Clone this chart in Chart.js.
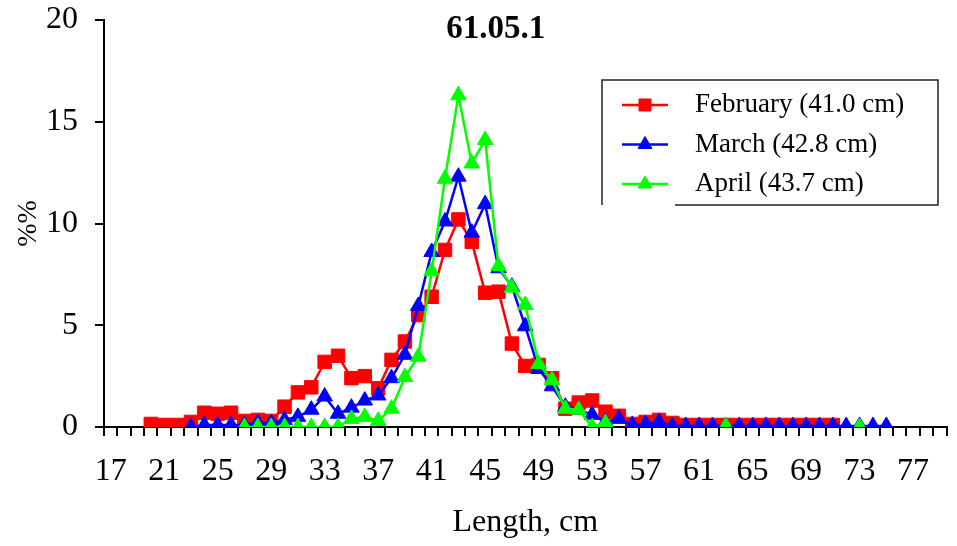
<!DOCTYPE html>
<html>
<head>
<meta charset="utf-8">
<script src="https://cdn.jsdelivr.net/npm/chart.js@4.4.1/dist/chart.umd.min.js"></script>
<style>
  html, body { margin: 0; padding: 0; background: #fff; }
  #wrap { width: 957px; height: 546px; }
</style>
</head>
<body>
<div id="wrap"><canvas id="lengths"></canvas></div>
<script>
// length classes, cm
const lengths = [17, 18, 19, 20, 21, 22, 23, 24, 25, 26, 27, 28, 29, 30, 31, 32,
    33, 34, 35, 36, 37, 38, 39, 40, 41, 42, 43, 44, 45, 46, 47, 48, 49, 50, 51,
    52, 53, 54, 55, 56, 57, 58, 59, 60, 61, 62, 63, 64, 65, 66, 67, 68, 69, 70,
    71, 72, 73, 74, 75, 76, 77, 78, 79];

// share of catch, %
const february = [null, null, null,
    0.15, 0.1, 0.1, 0.25, 0.7, 0.65, 0.7, 0.3, 0.35, 0.3,            // 20-29
    1.0, 1.7, 1.95, 3.2, 3.5, 2.4, 2.5, 1.9, 3.3, 4.2,               // 30-39
    5.5, 6.4, 8.7, 10.2, 9.1, 6.6, 6.65, 4.1, 3.0, 3.05,             // 40-49
    2.4, 0.9, 1.2, 1.3, 0.75, 0.55, 0.15, 0.25, 0.35, 0.2,           // 50-59
    0.1, 0.1, 0.1, 0.1, 0.1, 0.1, 0.1, 0.1, 0.1, 0.1, 0.1, 0.1,      // 60-71
    null, null, null, null, null, null, null, null];

const march = [null, null, null, null, null, null,
    0.0, 0.1, 0.1, 0.1, 0.1, 0.2, 0.2,                               // 23-29
    0.35, 0.5, 0.85, 1.5, 0.65, 0.95, 1.3, 1.55, 2.4, 3.55,          // 30-39
    5.95, 8.6, 10.1, 12.3, 9.55, 10.95, 7.8, 6.9, 4.95, 2.85,        // 40-49
    2.0, 1.0, 0.85, 0.6, 0.25, 0.4, 0.1, 0.15, 0.25, 0.05,           // 50-59
    0.05, 0.05, 0.05, 0.05, 0.05, 0.05, 0.05, 0.05, 0.05, 0.05,      // 60-69
    0.05, 0.05, 0.05, 0.05, 0.05, 0.05,                              // 70-75
    null, null, null, null];

const april = [null, null, null, null, null, null, null, null, null, null,
    0, 0, 0,                                                         // 27-29
    0, 0, 0, 0, 0, 0.4, 0.5, 0.3, 0.9, 2.45,                         // 30-39
    3.45, 7.65, 12.2, 16.3, 12.95, 14.1, 7.9, 6.85, 6.0, 3.1,        // 40-49
    2.3, 0.9, 0.85, 0.0, 0.2,                                        // 50-54
    null, null, null, null, null, null, null, null,
    0.05,                                                            // 63
    null, null, null, null, null, null, null, null, null,
    0.0,                                                             // 73
    null, null, null, null, null, null];

const seriesNames = ["February (41.0 cm)", "March (42.8 cm)", "April (43.7 cm)"];
const seriesColors = ["#FF0000", "#0000FF", "#00FF00"];
const seriesMarkers = ["rect", "triangle", "triangle"];

const serif = "'Liberation Serif', 'Times New Roman', serif";

function makeSet(i, values) {
    return {
        label: seriesNames[i],
        data: values,
        borderColor: seriesColors[i],
        backgroundColor: seriesColors[i],
        borderWidth: 2.5,
        pointStyle: seriesMarkers[i],
        pointRadius: seriesMarkers[i] === "rect" ? 9.5 : 9,
        pointBorderWidth: 1,
        pointBackgroundColor: seriesColors[i],
        pointBorderColor: seriesColors[i],
        tension: 0,
        spanGaps: false,
        order: 2 - i
    };
}

// title drawn over the plot, like the original
const chartTitle = {
    id: "chartTitle",
    afterDraw(chart) {
        const {ctx, chartArea} = chart;
        ctx.save();
        ctx.font = "bold 33px " + serif;
        ctx.fillStyle = "#000";
        ctx.textAlign = "center";
        ctx.textBaseline = "middle";
        ctx.fillText("61.05.1", chartArea.left + (chartArea.right - chartArea.left) * 0.465, 29);
        ctx.restore();
    }
};

// boxed legend inside the plot area
const boxLegend = {
    id: "boxLegend",
    afterDraw(chart) {
        const {ctx, chartArea} = chart;
        const x0 = chartArea.left + 498, y0 = 80, w = 336, h = 125;
        ctx.save();
        ctx.fillStyle = "#fff";
        ctx.fillRect(x0, y0, w, h);
        ctx.strokeStyle = "#222";
        ctx.lineWidth = 1.5;
        ctx.beginPath();
        ctx.moveTo(x0 + 73, y0 + h);
        ctx.lineTo(x0 + w, y0 + h);
        ctx.lineTo(x0 + w, y0);
        ctx.lineTo(x0, y0);
        ctx.lineTo(x0, y0 + h);
        ctx.stroke();
        ctx.font = "27px " + serif;
        ctx.textBaseline = "middle";
        ctx.textAlign = "left";
        chart.data.datasets.forEach((ds, i) => {
            const y = y0 + 25 + i * 39.5;
            ctx.strokeStyle = ds.borderColor;
            ctx.lineWidth = 2.5;
            ctx.beginPath();
            ctx.moveTo(x0 + 20, y);
            ctx.lineTo(x0 + 66, y);
            ctx.stroke();
            ctx.fillStyle = ds.borderColor;
            ctx.lineWidth = 1;
            Chart.helpers.drawPoint(ctx, {
                pointStyle: ds.pointStyle,
                radius: ds.pointStyle === "rect" ? 8.5 : 8,
                borderWidth: 1,
                rotation: 0
            }, x0 + 43, y);
            ctx.fillStyle = "#000";
            ctx.fillText(ds.label, x0 + 93, y);
        });
        ctx.restore();
    }
};

new Chart(document.querySelector("#lengths"), {
    type: "line",
    data: {
        labels: lengths,
        datasets: [makeSet(0, february), makeSet(1, march), makeSet(2, april)]
    },
    options: {
        responsive: true,
        maintainAspectRatio: false,
        animation: false,
        devicePixelRatio: 1,
        layout: {
            padding: {top: 20, right: 6, left: 0, bottom: 0}
        },
        plugins: {
            legend: {display: false},
            title: {display: false},
            tooltip: {enabled: false}
        },
        scales: {
            x: {
                type: "category",
                offset: true,
                grid: {
                    offset: true,
                    drawOnChartArea: false,
                    color: "#000",
                    lineWidth: 2,
                    tickLength: 9
                },
                border: {color: "#000", width: 2},
                ticks: {
                    autoSkip: false,
                    maxRotation: 0,
                    minRotation: 0,
                    color: "#000",
                    padding: 16,
                    font: {family: serif, size: 32},
                    callback: (v, i) => i % 4 === 0 ? lengths[i] : ""
                },
                title: {
                    display: true,
                    text: "Length, cm",
                    color: "#000",
                    font: {family: serif, size: 32},
                    padding: {top: 0, bottom: 4}
                },
                afterFit: s => { s.height = 119; s.paddingLeft = 0; s.paddingRight = 0; }
            },
            y: {
                min: 0,
                max: 20,
                grid: {
                    drawOnChartArea: false,
                    color: "#000",
                    lineWidth: 2,
                    tickLength: 9
                },
                border: {color: "#000", width: 2},
                ticks: {
                    stepSize: 5,
                    color: "#000",
                    padding: 17,
                    font: {family: serif, size: 32}
                },
                title: {
                    display: true,
                    text: "%%",
                    color: "#000",
                    font: {family: serif, size: 28},
                    padding: {top: 12, bottom: 0}
                },
                afterFit: s => { s.width = 104; s.paddingTop = 0; s.paddingBottom = 0; }
            }
        }
    },
    plugins: [chartTitle, boxLegend]
});
</script>
</body>
</html>
